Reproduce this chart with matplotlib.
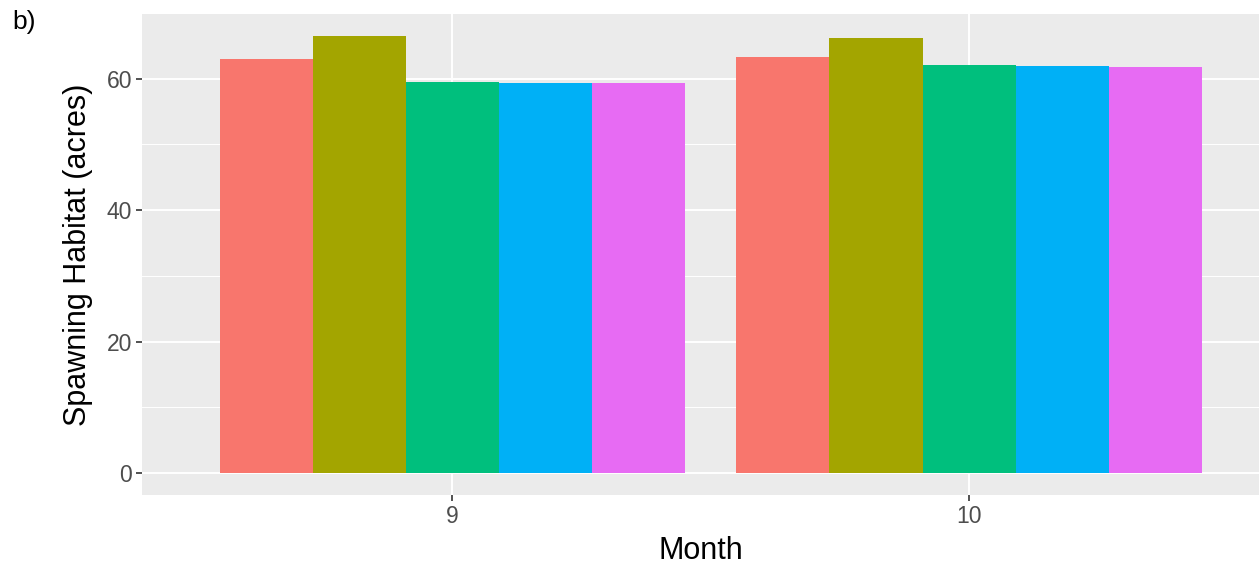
import matplotlib
matplotlib.use("Agg")
import matplotlib.pyplot as plt
import numpy as np

plt.rcParams['font.family'] = ['Liberation Sans', 'DejaVu Sans']

months = ["9", "10"]
groups = ["A", "B", "C", "D", "E"]
values = {
    "A": [63.0, 63.3],
    "B": [66.5, 66.2],
    "C": [59.5, 62.0],
    "D": [59.4, 61.9],
    "E": [59.4, 61.8],
}
colors = ["#F8766D", "#A3A500", "#00BF7D", "#00B0F6", "#E76BF3"]
yticks = [0, 20, 40, 60]

fig = plt.figure(figsize=(12.59, 5.71), dpi=100)
ax = fig.add_axes([142/1259, 76/571, 1 - 142/1259, (495-76)/571 + 0.0])
ax.set_position([142/1259, 76/571, 1 - 142/1259, (557-76)/571 * 0 + (495-14)/571])
ax.set_position([142/1259, (571-495)/571, 1 - 142/1259, (495-14)/571])

ax.set_facecolor("#EBEBEB")
x = np.arange(len(months))
width = 0.9 / len(groups)
for i, (g, c) in enumerate(zip(groups, colors)):
    ax.bar(x - 0.45 + width * (i + 0.5), values[g], width=width, color=c, zorder=3, linewidth=0)

ymax = max(max(v) for v in values.values())
ax.set_ylim(-0.05 * ymax, ymax * 1.05)
ax.set_xlim(-0.6, 1 + (1259 - 969) / 517)

ax.set_yticks(yticks)
ax.set_yticks([10, 30, 50], minor=True)
ax.set_xticks(x)
ax.set_xticklabels(months)
ax.grid(True, which="major", color="white", linewidth=1.4, zorder=1)
ax.grid(True, which="minor", axis="y", color="white", linewidth=0.7, zorder=1)
ax.tick_params(which="minor", length=0)
ax.tick_params(which="major", length=4, width=1.2, color="#333333", labelcolor="#4D4D4D", labelsize=16.5, pad=3)
for s in ax.spines.values():
    s.set_visible(False)

ax.set_xlabel("Month", fontsize=22, labelpad=6)
ax.set_ylabel("Spawning Habitat (acres)", fontsize=22, labelpad=10)
fig.text(12/1259, 1 - 22/571, "b)", fontsize=19, va="center", ha="left")

fig.savefig("out.png", dpi=100)
